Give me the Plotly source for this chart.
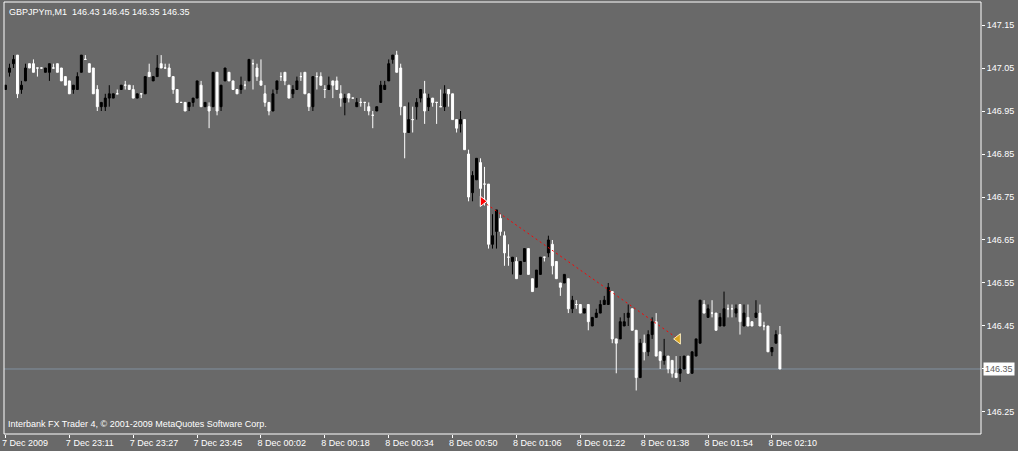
import plotly.graph_objects as go

# ---- data (GBPJPYm, M1) ----
open_ = [147.00, 147.04, 147.06, 147.08, 147.00, 147.02, 147.06, 147.06, 147.05, 147.05,
         147.04, 147.04, 147.05, 147.06, 147.05, 147.03, 147.02, 147.00, 147.00, 147.04,
         147.07, 147.06, 147.05, 147.00, 146.96, 146.96, 146.98, 146.98, 146.99, 147.00,
         147.01, 147.01, 147.00, 146.98, 146.99, 146.99, 147.04, 147.02, 147.03, 147.06,
         147.05, 147.05, 147.03, 147.00, 146.97, 146.97, 146.96, 146.97, 146.98, 147.01,
         146.96, 146.96, 146.96, 147.04, 146.96, 147.02, 147.04, 147.02, 147.00, 147.00,
         147.01, 147.02, 147.06, 147.05, 147.02, 146.99, 146.97, 146.95, 147.00, 147.03,
         147.04, 147.01, 146.99, 147.00, 147.03, 147.04, 146.99, 146.96, 147.03, 147.03,
         147.00, 147.00, 147.02, 147.02, 146.99, 146.97, 146.99, 146.98, 146.96, 146.97,
         146.97, 146.96, 146.94, 146.95, 146.97, 147.00, 147.02, 147.07, 147.08, 147.05,
         146.96, 146.90, 146.93, 146.96, 146.98, 146.99, 146.96, 146.98, 146.97, 146.96,
         146.96, 147.00, 146.99, 146.93, 146.92, 146.93, 146.85, 146.76, 146.79, 146.83,
         146.78, 146.78, 146.64, 146.67, 146.70, 146.66, 146.61, 146.60, 146.60, 146.57,
         146.60, 146.63, 146.56, 146.54, 146.57, 146.61, 146.62, 146.64, 146.60, 146.55,
         146.55, 146.56, 146.49, 146.50, 146.50, 146.48, 146.50, 146.45, 146.47, 146.48,
         146.50, 146.50, 146.53, 146.42, 146.42, 146.45, 146.47, 146.49, 146.44, 146.33,
         146.41, 146.39, 146.43, 146.46, 146.39, 146.37, 146.38, 146.37, 146.34, 146.34,
         146.35, 146.38, 146.34, 146.38, 146.41, 146.50, 146.47, 146.48, 146.48, 146.45,
         146.45, 146.49, 146.49, 146.48, 146.50, 146.45, 146.47, 146.46, 146.47, 146.48,
         146.45, 146.45, 146.39, 146.41, 146.43]
high = [147.01, 147.06, 147.08, 147.08, 147.02, 147.06, 147.06, 147.07, 147.05, 147.05,
        147.05, 147.06, 147.06, 147.06, 147.05, 147.03, 147.02, 147.01, 147.04, 147.08,
        147.08, 147.06, 147.05, 147.01, 146.97, 146.99, 147.01, 146.99, 147.00, 147.01,
        147.02, 147.01, 147.01, 146.99, 146.99, 147.03, 147.06, 147.03, 147.08, 147.08,
        147.06, 147.06, 147.03, 147.00, 146.97, 146.97, 146.97, 146.98, 147.02, 147.02,
        146.97, 146.97, 147.04, 147.04, 147.01, 147.05, 147.04, 147.02, 147.00, 147.03,
        147.02, 147.07, 147.07, 147.06, 147.07, 147.01, 146.97, 147.00, 147.02, 147.04,
        147.04, 147.01, 147.01, 147.03, 147.04, 147.04, 146.99, 147.03, 147.04, 147.04,
        147.01, 147.03, 147.02, 147.03, 147.01, 146.99, 146.99, 146.98, 146.98, 146.98,
        146.97, 146.97, 146.95, 146.96, 147.02, 147.02, 147.07, 147.08, 147.09, 147.06,
        146.96, 146.97, 146.96, 146.98, 147.00, 147.02, 146.99, 146.98, 146.97, 147.00,
        147.01, 147.00, 146.99, 146.93, 146.95, 146.93, 146.86, 146.81, 146.84, 146.84,
        146.82, 146.78, 146.71, 146.72, 146.71, 146.67, 146.64, 146.61, 146.61, 146.60,
        146.63, 146.63, 146.56, 146.58, 146.61, 146.61, 146.66, 146.65, 146.60, 146.55,
        146.57, 146.56, 146.52, 146.51, 146.50, 146.49, 146.50, 146.47, 146.49, 146.51,
        146.52, 146.55, 146.53, 146.42, 146.47, 146.48, 146.50, 146.49, 146.44, 146.42,
        146.43, 146.44, 146.47, 146.48, 146.39, 146.42, 146.38, 146.37, 146.38, 146.38,
        146.38, 146.38, 146.39, 146.42, 146.51, 146.51, 146.50, 146.51, 146.48, 146.48,
        146.53, 146.50, 146.50, 146.50, 146.50, 146.50, 146.50, 146.46, 146.51, 146.50,
        146.46, 146.45, 146.40, 146.44, 146.45]
low = [147.00, 147.03, 147.05, 146.98, 146.99, 147.02, 147.05, 147.04, 147.03, 147.05,
       147.04, 147.02, 147.05, 147.04, 147.02, 147.01, 146.99, 146.99, 147.00, 147.04,
       147.07, 147.04, 146.99, 146.95, 146.95, 146.95, 146.96, 146.98, 146.99, 147.00,
       147.00, 147.00, 146.98, 146.98, 146.98, 146.99, 147.03, 147.02, 147.03, 147.05,
       147.05, 147.03, 146.99, 146.97, 146.97, 146.95, 146.95, 146.96, 146.98, 146.96,
       146.96, 146.91, 146.96, 146.94, 146.95, 147.02, 147.02, 147.00, 146.99, 146.99,
       147.00, 147.02, 147.00, 147.02, 147.01, 146.96, 146.94, 146.95, 146.99, 147.02,
       147.01, 146.98, 146.98, 147.00, 147.02, 146.99, 146.95, 146.95, 147.00, 147.01,
       146.98, 147.00, 146.98, 147.00, 146.96, 146.94, 146.97, 146.98, 146.96, 146.96,
       146.95, 146.94, 146.91, 146.95, 146.97, 147.00, 147.02, 147.06, 147.04, 146.94,
       146.84, 146.90, 146.90, 146.93, 146.97, 146.92, 146.95, 146.96, 146.92, 146.96,
       146.95, 146.96, 146.93, 146.90, 146.90, 146.86, 146.74, 146.74, 146.79, 146.75,
       146.73, 146.63, 146.63, 146.63, 146.66, 146.59, 146.59, 146.57, 146.56, 146.57,
       146.60, 146.57, 146.53, 146.54, 146.57, 146.60, 146.61, 146.57, 146.56, 146.52,
       146.55, 146.48, 146.48, 146.49, 146.48, 146.48, 146.44, 146.45, 146.47, 146.48,
       146.50, 146.50, 146.41, 146.34, 146.42, 146.45, 146.45, 146.44, 146.30, 146.33,
       146.37, 146.38, 146.42, 146.38, 146.35, 146.36, 146.34, 146.33, 146.33, 146.32,
       146.35, 146.34, 146.34, 146.38, 146.41, 146.48, 146.47, 146.47, 146.44, 146.45,
       146.45, 146.47, 146.47, 146.47, 146.43, 146.45, 146.45, 146.45, 146.47, 146.45,
       146.44, 146.39, 146.38, 146.41, 146.35]
close = [147.01, 147.05, 147.07, 146.99, 147.01, 147.05, 147.05, 147.04, 147.05, 147.05,
         147.05, 147.06, 147.05, 147.04, 147.02, 147.01, 146.99, 147.01, 147.03, 147.08,
         147.07, 147.04, 146.99, 146.96, 146.97, 146.98, 146.99, 146.99, 146.99, 147.01,
         147.01, 147.00, 146.98, 146.99, 146.99, 147.03, 147.03, 147.03, 147.05, 147.05,
         147.05, 147.03, 147.00, 146.97, 146.97, 146.95, 146.97, 146.98, 147.02, 146.96,
         146.97, 146.95, 147.04, 146.95, 147.01, 147.05, 147.02, 147.00, 146.99, 147.01,
         147.01, 147.07, 147.06, 147.03, 147.01, 146.97, 146.95, 146.99, 147.02, 147.03,
         147.02, 146.98, 147.00, 147.02, 147.03, 146.99, 146.96, 147.03, 147.03, 147.01,
         147.00, 147.01, 147.01, 147.00, 146.98, 146.98, 146.98, 146.98, 146.97, 146.97,
         146.97, 146.95, 146.94, 146.96, 147.01, 147.01, 147.06, 147.08, 147.04, 146.96,
         146.90, 146.93, 146.93, 146.97, 147.00, 146.95, 146.98, 146.97, 146.97, 146.96,
         146.99, 146.99, 146.93, 146.91, 146.93, 146.86, 146.75, 146.80, 146.84, 146.77,
         146.78, 146.64, 146.66, 146.72, 146.67, 146.62, 146.61, 146.61, 146.56, 146.60,
         146.63, 146.57, 146.53, 146.58, 146.61, 146.61, 146.65, 146.59, 146.56, 146.54,
         146.57, 146.49, 146.51, 146.50, 146.48, 146.49, 146.46, 146.47, 146.48, 146.50,
         146.51, 146.54, 146.42, 146.41, 146.46, 146.46, 146.48, 146.44, 146.33, 146.41,
         146.39, 146.43, 146.46, 146.38, 146.37, 146.38, 146.35, 146.34, 146.33, 146.35,
         146.38, 146.34, 146.39, 146.42, 146.51, 146.48, 146.49, 146.48, 146.44, 146.47,
         146.49, 146.49, 146.49, 146.49, 146.46, 146.48, 146.45, 146.45, 146.48, 146.45,
         146.45, 146.39, 146.40, 146.43, 146.35]

x_tick_bars = [0, 16, 32, 48, 64, 80, 96, 112, 128, 144, 160, 176, 192]
x_tick_labels = ["7 Dec 2009", "7 Dec 23:11", "7 Dec 23:27", "7 Dec 23:45",
                 "8 Dec 00:02", "8 Dec 00:18", "8 Dec 00:34", "8 Dec 00:50",
                 "8 Dec 01:06", "8 Dec 01:22", "8 Dec 01:38", "8 Dec 01:54",
                 "8 Dec 02:10"]
y_tick_values = [146.25, 146.35, 146.45, 146.55, 146.65, 146.75, 146.85, 146.95, 147.05, 147.15]
y_tick_labels = ["146.25", "146.35", "146.45", "146.55", "146.65",
                 "146.75", "146.85", "146.95", "147.05", "147.15"]
trade_bars = [119.5, 168.5]
trade_prices = [146.74, 146.42]
bid_price = 146.35
header_text = "GBPJPYm,M1  146.43 146.45 146.35 146.35"
footer_text = "Interbank FX Trader 4, \u00a9 2001-2009 MetaQuotes Software Corp."

BG = "#696969"
FONT = "Liberation Sans"

bars = list(range(len(open_)))
up = [i for i in bars if close[i] > open_[i]]
dn = [i for i in bars if close[i] <= open_[i]]

fig = go.Figure()
fig.add_trace(go.Candlestick(
    x=up, open=[open_[i] for i in up], high=[high[i] for i in up],
    low=[low[i] for i in up], close=[close[i] for i in up],
    increasing=dict(line=dict(color="black", width=1), fillcolor="black"),
    decreasing=dict(line=dict(color="black", width=1), fillcolor="black"),
    whiskerwidth=0, hoverinfo="skip"))
fig.add_trace(go.Candlestick(
    x=dn, open=[open_[i] for i in dn], high=[high[i] for i in dn],
    low=[low[i] for i in dn], close=[close[i] for i in dn],
    increasing=dict(line=dict(color="white", width=1), fillcolor="white"),
    decreasing=dict(line=dict(color="white", width=1), fillcolor="white"),
    whiskerwidth=0, hoverinfo="skip"))

# trade line + markers
fig.add_trace(go.Scatter(x=trade_bars, y=trade_prices, mode="lines",
                         line=dict(color="red", width=1, dash="2px,3px"), hoverinfo="skip"))
fig.add_trace(go.Scatter(x=trade_bars[:1], y=trade_prices[:1], mode="markers",
                         marker=dict(symbol="triangle-right", size=9, color="red",
                                     line=dict(color="white", width=1)), hoverinfo="skip"))
fig.add_trace(go.Scatter(x=trade_bars[1:], y=trade_prices[1:], mode="markers",
                         marker=dict(symbol="triangle-left", size=9, color="#DAA520",
                                     line=dict(color="#FFF0C0", width=1)), hoverinfo="skip"))

fig.add_shape(type="line", xref="paper", x0=0, x1=1, yref="y", y0=bid_price, y1=bid_price,
              line=dict(color="#8090A0", width=1), layer="below")
fig.add_shape(type="rect", xref="paper", yref="paper", x0=0, x1=1, y0=0, y1=1,
              line=dict(color="white", width=1), layer="above")

fig.add_annotation(xref="paper", yref="y", x=1, y=bid_price, xanchor="left", yanchor="middle",
                   xshift=2, text="%.2f" % bid_price, showarrow=False, bgcolor="white",
                   borderpad=1, font=dict(family=FONT, size=9, color="#606060"))
fig.add_annotation(xref="paper", yref="paper", x=0, y=1, xanchor="left", yanchor="top",
                   xshift=3, yshift=-3, text=header_text, showarrow=False,
                   font=dict(family=FONT, size=9, color="white"))
fig.add_annotation(xref="paper", yref="paper", x=0, y=0, xanchor="left", yanchor="bottom",
                   xshift=2, yshift=3, text=footer_text, showarrow=False,
                   font=dict(family=FONT, size=9, color="white"))

fig.update_layout(
    width=1018, height=451,
    margin=dict(l=2, r=37, t=2, b=17),
    paper_bgcolor=BG, plot_bgcolor=BG,
    showlegend=False,
    font=dict(family=FONT, size=9, color="white"),
)
fig.update_xaxes(range=[-0.375, 244.375], rangeslider_visible=False, showgrid=False,
                 zeroline=False, tickvals=x_tick_bars, ticktext=x_tick_labels,
                 ticks="outside", ticklen=3, tickcolor="white", tickwidth=1,
                 ticklabelposition="outside right", ticklabelshift=-4,
                 tickfont=dict(family=FONT, size=9, color="white"))
fig.update_yaxes(side="right", range=[146.1988, 147.2035], showgrid=False, zeroline=False,
                 tickvals=y_tick_values, ticktext=y_tick_labels, ticks="outside",
                 ticklen=3, tickcolor="white", tickwidth=1,
                 tickfont=dict(family=FONT, size=9, color="white"))

fig.write_html("out.html", config={"displayModeBar": False},
               post_script="document.body.style.margin='0';document.body.style.overflow='hidden';"
                           "document.documentElement.style.background='" + BG + "';")
